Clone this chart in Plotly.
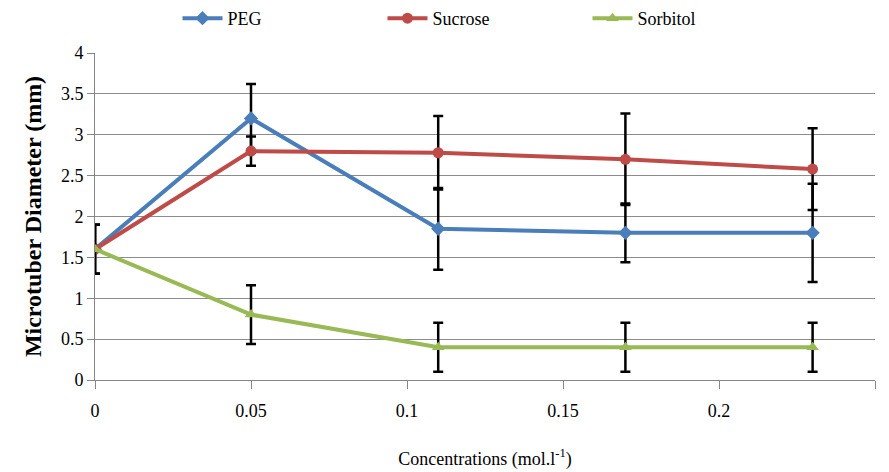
import plotly.graph_objects as go

concentrations = [0, 0.05, 0.11, 0.17, 0.23]
peg = [1.6, 3.2, 1.85, 1.8, 1.8]
peg_err = [0.3, 0.42, 0.5, 0.36, 0.6]
sucrose = [1.6, 2.8, 2.78, 2.7, 2.58]
sucrose_err = [0.3, 0.18, 0.45, 0.56, 0.5]
sorbitol = [1.6, 0.8, 0.4, 0.4, 0.4]
sorbitol_err = [0.3, 0.36, 0.3, 0.3, 0.3]

x_ticks = [0, 0.05, 0.1, 0.15, 0.2, 0.25]
x_tick_labels = ["0", "0.05", "0.1", "0.15", "0.2", "0.25"]
y_ticks = [0, 0.5, 1, 1.5, 2, 2.5, 3, 3.5, 4]
y_tick_labels = ["0", "0.5", "1", "1.5", "2", "2.5", "3", "3.5", "4"]

series = [
    ("PEG", peg, peg_err, "#4A7EBB", "diamond", 11),
    ("Sucrose", sucrose, sucrose_err, "#BE4B48", "circle", 11),
    ("Sorbitol", sorbitol, sorbitol_err, "#98B954", "triangle-up", 11),
]

FF = "Liberation Serif"

fig = go.Figure()
for name, vals, errs, color, sym, sz in series:
    fig.add_trace(go.Scatter(
        x=concentrations, y=vals, name=name, mode="lines+markers",
        line=dict(color=color, width=4),
        marker=dict(symbol=sym, size=sz, color=color),
        error_y=dict(type="data", array=errs, visible=True,
                     color="black", thickness=2.5, width=5),
    ))

fig.update_layout(
    width=889, height=472,
    margin=dict(l=95, r=14, t=0, b=92),
    paper_bgcolor="white", plot_bgcolor="white",
    font=dict(family=FF, size=18, color="black"),
    legend=dict(orientation="h", x=0.5, xanchor="center", y=1.0, yanchor="top",
                font=dict(family=FF, size=18), entrywidth=150,
                itemwidth=40, tracegroupgap=0),
    showlegend=True,
)
fig.update_xaxes(
    range=[0, 0.25], tickvals=x_ticks, ticktext=x_tick_labels,
    tickfont=dict(family=FF, size=18),
    showgrid=False, showline=True, linecolor="#868686", linewidth=1,
    ticks="outside", ticklen=8, tickcolor="#868686", ticklabelstandoff=6,
    zeroline=False, automargin=False,
    title=dict(text="Concentrations (mol.l<sup>-1</sup>)", font=dict(family=FF, size=18), standoff=32),
)
fig.update_yaxes(
    domain=[0, 327 / 380],
    range=[0, 4], tickvals=y_ticks, ticktext=y_tick_labels,
    tickfont=dict(family=FF, size=18),
    showgrid=True, gridcolor="#8C8C8C", gridwidth=1,
    showline=True, linecolor="#868686", linewidth=1,
    ticks="outside", ticklen=7, tickcolor="#868686",
    zeroline=False, automargin=False,
    title=dict(text="<b>Microtuber Diameter (mm)</b>", font=dict(family=FF, size=24), standoff=12),
)

fig.write_html("out.html")
